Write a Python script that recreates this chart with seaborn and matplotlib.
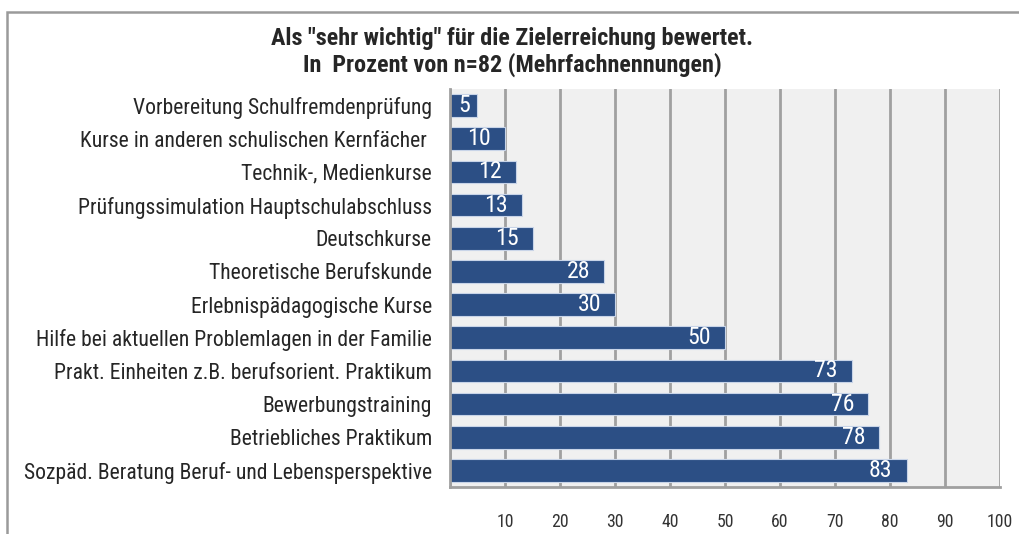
import matplotlib
matplotlib.use("Agg")
import matplotlib.pyplot as plt
import seaborn as sns
import pandas as pd
from matplotlib import font_manager
from matplotlib.patches import Rectangle
from matplotlib.textpath import TextPath
from matplotlib.font_manager import FontProperties

categories = [
    "Vorbereitung Schulfremdenprüfung",
    "Kurse in anderen schulischen Kernfächer ",
    "Technik-, Medienkurse",
    "Prüfungssimulation Hauptschulabschluss",
    "Deutschkurse",
    "Theoretische Berufskunde",
    "Erlebnispädagogische Kurse",
    "Hilfe bei aktuellen Problemlagen in der Familie",
    "Prakt. Einheiten z.B. berufsorient. Praktikum",
    "Bewerbungstraining",
    "Betriebliches Praktikum",
    "Sozpäd. Beratung Beruf- und Lebensperspektive",
]
values = [5, 10, 12, 13, 15, 28, 30, 50, 73, 76, 78, 83]
x_ticks = [10, 20, 30, 40, 50, 60, 70, 80, 90, 100]
title_lines = ['Als "sehr wichtig" für die Zielerreichung bewertet.',
               'In  Prozent von n=82 (Mehrfachnennungen)']

df = pd.DataFrame({"Kategorie": categories, "Prozent": values})

sns.set_theme(style="white")

# pick a narrow font if one is installed
names = {f.name for f in font_manager.fontManager.ttflist}
family = "Liberation Sans"
for cand in ["Liberation Sans Narrow", "Arial Narrow", "DejaVu Sans Condensed",
             "Roboto Condensed", "Open Sans Condensed", "Noto Sans Condensed"]:
    if cand in names:
        family = cand
        break
plt.rcParams["font.family"] = [family, "DejaVu Sans"]


def width_px(text, size, weight="normal"):
    fp = FontProperties(family=[family, "DejaVu Sans"], size=size, weight=weight)
    tp = TextPath((0, 0), text, prop=fp)
    bb = tp.get_extents()
    return bb.width * 100 / 72.0


def fit_size(text, target_px, weight="normal"):
    return 20 * target_px / width_px(text, 20, weight)


label_size = fit_size(categories[-1], 408)
title_size = fit_size(title_lines[0], 480, "bold")
value_size = label_size * 1.1
tick_size = label_size * 0.82

fig = plt.figure(figsize=(10.2, 5.34), dpi=100)
fig.patches.append(Rectangle((7 / 1020, -0.1), 1.2, 1 - 12 / 534 + 0.1,
                             transform=fig.transFigure, fill=False,
                             edgecolor="#9a9a9a", linewidth=1.8))
ax = fig.add_axes([450 / 1020, 47 / 534, 550 / 1020, 398 / 534])
ax.set_facecolor("#f0f0f0")

sns.barplot(data=df, x="Prozent", y="Kategorie", orient="h", color="#2c4f85",
            saturation=1, width=0.68, edgecolor="#c8d4e8", linewidth=0.8, ax=ax)

ax.set_xlim(0, 100)
ax.set_xticks([0] + x_ticks)
ax.set_xticklabels([""] + [str(t) for t in x_ticks], fontsize=tick_size, color="#333333")
ax.xaxis.grid(True, color="#a0a0a0", linewidth=2)
ax.set_axisbelow(True)
ax.set_xlabel("")
ax.set_ylabel("")
ax.tick_params(axis="x", length=6, width=2, color="#a0a0a0", pad=13, direction="out")
ax.tick_params(axis="y", length=0, labelsize=label_size, labelcolor="#262626", pad=13)
ax.set_yticks(range(len(categories)))
ax.set_yticks([i - 0.5 for i in range(len(categories) + 1)], minor=True)
ax.tick_params(axis="y", which="minor", length=7, width=2, color="#a0a0a0", direction="out")
for side in ["top", "right"]:
    ax.spines[side].set_visible(False)
for side in ["left", "bottom"]:
    ax.spines[side].set_color("#a0a0a0")
    ax.spines[side].set_linewidth(2)

for i, v in enumerate(values):
    if v < 8:
        ax.annotate(str(v), (v / 2, i), ha="center", va="center", color="white",
                    fontsize=value_size)
    else:
        ax.annotate(str(v), (v, i), xytext=(-10, 0), textcoords="offset points",
                    ha="right", va="center", color="white", fontsize=value_size)

fig.text(512 / 1020, 1 - 38 / 534, title_lines[0], ha="center", va="center",
         fontsize=title_size, fontweight="bold", color="#262626")
fig.text(512 / 1020, 1 - 65 / 534, title_lines[1], ha="center", va="center",
         fontsize=title_size, fontweight="bold", color="#262626")

fig.savefig("out.png", dpi=100)
